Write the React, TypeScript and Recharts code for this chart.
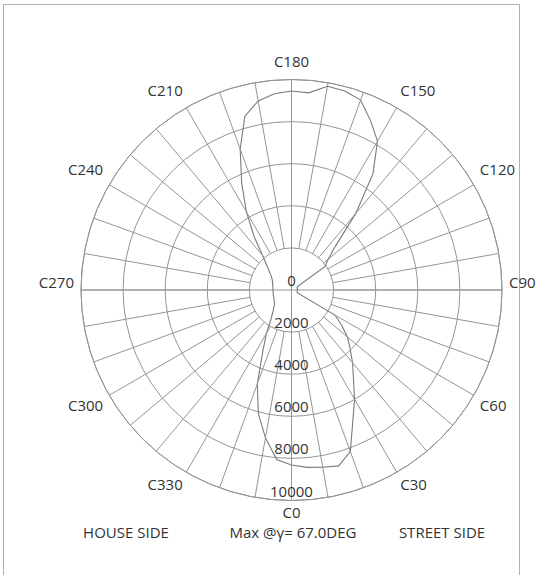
import React from 'react';
import { RadarChart, Radar, PolarGrid, PolarAngleAxis, PolarRadiusAxis } from 'recharts';

// C-plane angles (degrees) and luminous intensity (cd) at gamma = 67.0 deg
const cAngles = [
  0, 5, 10, 15, 20, 25, 30, 35, 40, 45, 50, 55, 60, 65, 70, 75, 80, 85,
  90, 95, 100, 105, 110, 115, 120, 125, 130, 135, 140, 145, 150, 155, 160, 165, 170, 175,
  180, 185, 190, 195, 200, 205, 210, 215, 220, 225, 230, 235, 240, 245, 250, 255, 260, 265,
  270, 275, 280, 285, 290, 295, 300, 305, 310, 315, 320, 325, 330, 335, 340, 345, 350, 355,
];
const intensity = [
  8310, 8460, 8550, 8650, 8170, 6890, 5990, 5130, 4510, 3940, 3470, 2900, 2380, 300, 290, 280, 280, 280,
  280, 280, 280, 290, 300, 300, 310, 1950, 2280, 2950, 4750, 6750, 8170, 8880, 9600, 9790, 9830, 9400,
  9450, 9360, 9120, 8550, 7130, 5600, 4280, 3090, 2140, 1660, 1380, 1190, 1070, 1000, 950, 930, 900, 880,
  880, 880, 880, 900, 900, 930, 950, 1000, 1050, 1190, 1380, 1710, 2380, 3230, 4750, 6080, 7130, 8080,
];
const spokeTicks = [
  0, 10, 20, 30, 40, 50, 60, 70, 80, 90, 100, 110, 120, 130, 140, 150, 160, 170,
  180, 190, 200, 210, 220, 230, 240, 250, 260, 270, 280, 290, 300, 310, 320, 330, 340, 350,
];
const labelStep = 30;
const radiusTicks = [0, 2000, 4000, 6000, 8000, 10000];
const bottomLabels = ['HOUSE SIDE', 'Max @γ= 67.0DEG', 'STREET SIDE'];

const data = cAngles.map((a, i) => ({ angle: a, value: intensity[i] }));

const W = 556;
const H = 575;
const CX = 291.5;
const CY = 290;
const R = 210.5;
const INNER_FRACTION = radiusTicks[1] / radiusTicks[radiusTicks.length - 1];
const FONT = "'Open Sans', sans-serif";
const GRID = '#959595';
const TEXT = '#333333';

function AngleTick(props: any) {
  const { payload } = props;
  const v = Number(payload?.value);
  if (v % labelStep !== 0) return <g />;
  const cx = typeof props.cx === 'number' ? props.cx : CX;
  const cy = typeof props.cy === 'number' ? props.cy : CY;
  const coord = typeof payload?.coordinate === 'number' ? payload.coordinate : v - 90;
  const rad = (coord * Math.PI) / 180;
  const r = R + 7;
  const c = Math.cos(rad);
  const s = Math.sin(rad);
  const x = cx + r * c;
  const y = cy - r * s;
  const anchor = c > 0.1 ? 'start' : c < -0.1 ? 'end' : 'middle';
  const by = s > 0.1 ? y - 6 : s < -0.9 ? y + 10 : s < -0.1 ? y + 12 : y - 2;
  return (
    <text x={x} y={by} textAnchor={anchor} fontSize={15} fontFamily={FONT} fill={TEXT}>
      {`C${v}`}
    </text>
  );
}

function RadiusTick(props: any) {
  const { x, y, payload } = props;
  return (
    <text x={x} y={y - 4} textAnchor="middle" fontSize={15} fontFamily={FONT} fill={TEXT}>
      {payload?.value}
    </text>
  );
}

export default function App() {
  return (
    <div style={{ position: 'absolute', left: 0, top: 0, width: W, height: H, overflow: 'hidden', background: '#fff' }}>
      <div
        style={{
          position: 'absolute',
          left: 3,
          top: 4,
          width: 517,
          height: 640,
          border: '1px solid #b0b0b0',
          boxSizing: 'border-box',
        }}
      />
      <div style={{ position: 'absolute', left: 0, top: 0 }}>
        <RadarChart
          width={W}
          height={H}
          data={data}
          cx={CX}
          cy={CY}
          outerRadius={R}
          startAngle={-90}
          endAngle={270}
          margin={{ top: 0, right: 0, bottom: 0, left: 0 }}
        >
          <PolarGrid
            gridType="circle"
            radialLines={true}
            polarAngles={[-90, 0, 90, 180]}
            stroke={GRID}
            strokeWidth={1}
          />
          <PolarAngleAxis
            dataKey="angle"
            type="number"
            domain={[0, 360]}
            ticks={spokeTicks as any}
            tickCount={36}
            orientation="inner"
            tickSize={R * (1 - INNER_FRACTION)}
            axisLineType="circle"
            axisLine={{ stroke: GRID }}
            tickLine={{ stroke: GRID, strokeWidth: 1 }}
            stroke={GRID}
            tick={AngleTick}
          />
          <PolarRadiusAxis
            angle={-90}
            type="number"
            domain={[0, 10000]}
            ticks={radiusTicks as any}
            tickCount={6}
            axisLine={false}
            tickLine={false}
            orientation="middle"
            tick={RadiusTick}
          />
          <Radar
            dataKey="value"
            stroke="#7a7a7a"
            strokeWidth={1.1}
            fill="none"
            fillOpacity={0}
            dot={false}
            isAnimationActive={false}
          />
        </RadarChart>
      </div>
      <svg width={W} height={H} style={{ position: 'absolute', left: 0, top: 0, pointerEvents: 'none' }}>
        <text x={126} y={538} textAnchor="middle" fontSize={15} fontFamily={FONT} fill={TEXT}>
          {bottomLabels[0]}
        </text>
        <text x={293} y={538} textAnchor="middle" fontSize={15} fontFamily={FONT} fill={TEXT}>
          {bottomLabels[1]}
        </text>
        <text x={442} y={538} textAnchor="middle" fontSize={15} fontFamily={FONT} fill={TEXT}>
          {bottomLabels[2]}
        </text>
      </svg>
    </div>
  );
}
